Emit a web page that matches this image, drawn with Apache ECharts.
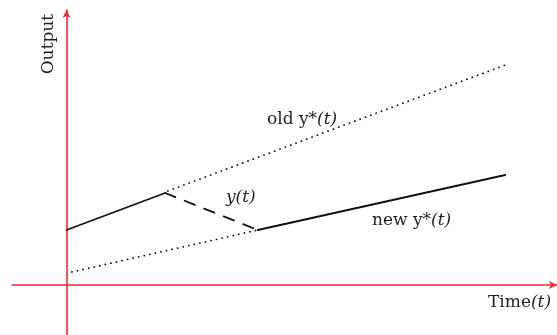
<!DOCTYPE html>
<html>
<head>
<meta charset="utf-8">
<script src="https://cdn.jsdelivr.net/npm/echarts@6/dist/echarts.min.js"></script>
<style>
  html, body { margin: 0; padding: 0; background: #fff; }
  #chart { width: 557px; height: 335px; }
</style>
</head>
<body>
<div id="chart"></div>
<script>
// actual output path y(t): before the shock, adjustment, after
const outputBefore = [[0, 1.1], [1.81, 1.84]];
const outputAdjust = [[1.81, 1.84], [3.51, 1.1]];
const outputAfter = [[3.51, 1.1], [8.05, 2.2]];
// potential output trends
const oldTrend = [[1.86, 1.88], [8.05, 4.4]];
const newTrend = [[0.1, 0.26], [3.51, 1.1]];

const RED = '#ee2b2f';
const INK = '#231f20';
const FONT = '"DejaVu Serif", "Liberation Serif", serif';

function initChart() {
    const chart = echarts.init(document.getElementById('chart'));

    const lineSeries = (data, type, width) => ({
        type: 'line',
        data: data,
        symbol: 'none',
        silent: true,
        animation: false,
        lineStyle: {
            color: '#111',
            width: width,
            type: type,
            cap: 'round'
        }
    });

    // plain text followed by an italic "(t)"
    const mixedLabel = (x, y, plain) => ({
        type: 'text',
        x: x,
        y: y,
        style: {
            text: '{n|' + plain + '}{i|(t)}',
            verticalAlign: 'middle',
            rich: {
                n: { font: '17px ' + FONT, fill: INK },
                i: { font: 'italic 17px ' + FONT, fill: INK }
            }
        }
    });

    const option = {
        animation: false,
        grid: {
            left: 12,
            right: 0,
            top: 10,
            bottom: 0
        },
        xAxis: {
            type: 'value',
            min: -1,
            max: 9,
            axisLine: {
                onZero: true,
                symbol: ['none', 'arrow'],
                symbolSize: [6, 8],
                lineStyle: { color: RED, width: 1.6 }
            },
            axisTick: { show: false },
            axisLabel: { show: false },
            splitLine: { show: false }
        },
        yAxis: {
            type: 'value',
            min: -1,
            max: 5.5,
            axisLine: {
                onZero: true,
                symbol: ['none', 'arrow'],
                symbolSize: [6, 8],
                lineStyle: { color: RED, width: 1.6 }
            },
            axisTick: { show: false },
            axisLabel: { show: false },
            splitLine: { show: false }
        },
        graphic: [
            {
                type: 'text',
                x: 49,
                y: 44,
                rotation: Math.PI / 2,
                style: {
                    text: 'Output',
                    font: '17px ' + FONT,
                    fill: INK,
                    align: 'center',
                    verticalAlign: 'middle'
                }
            },
            mixedLabel(488, 303, 'Time'),
            mixedLabel(267, 120, 'old y*'),
            {
                type: 'text',
                x: 226,
                y: 198,
                style: {
                    text: 'y(t)',
                    font: 'italic 17px ' + FONT,
                    fill: INK,
                    verticalAlign: 'middle'
                }
            },
            mixedLabel(372, 221, 'new y*')
        ],
        series: [
            lineSeries(oldTrend, [0.1, 5.6], 1.8),
            lineSeries(newTrend, [0.1, 5.6], 1.8),
            lineSeries(outputBefore, 'solid', 1.8),
            lineSeries(outputAdjust, [11, 10], 1.8),
            lineSeries(outputAfter, 'solid', 1.8)
        ]
    };

    chart.setOption(option);
}

document.addEventListener('DOMContentLoaded', initChart);
</script>
</body>
</html>
